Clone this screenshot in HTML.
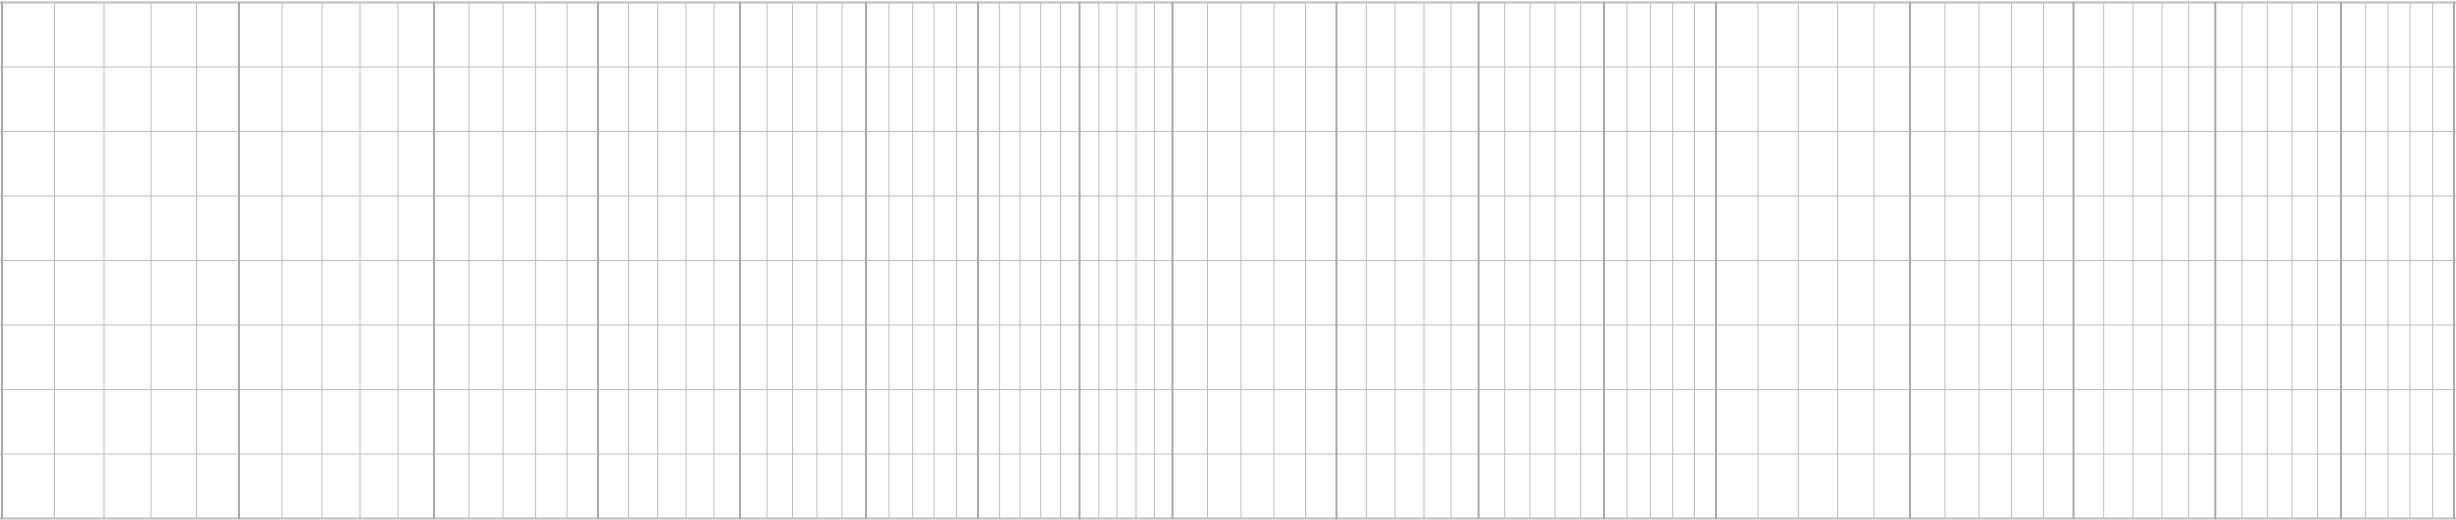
<!DOCTYPE html>
<html>
<head>
<meta charset="utf-8">
<style>
  html,body{margin:0;padding:0;background:#fff;}
  body{width:2456px;height:520px;overflow:hidden;font-family:"Liberation Sans",sans-serif;}
  svg{display:block;}
</style>
</head>
<body>
<svg id="grid" width="2456" height="520" viewBox="0 0 2456 520" xmlns="http://www.w3.org/2000/svg">
  <rect x="0" y="0" width="2456" height="520" fill="#ffffff"/>
  <g id="minor"></g>
  <g id="horiz"></g>
  <g id="major"></g>
</svg>
<script>
const majorX = [2, 239, 434, 598, 740, 866, 978, 1079.5, 1172.5, 1336.5, 1478.6, 1604, 1716, 1910, 2073.5, 2215.3, 2341, 2454];
const minorX = [
  54.5,104,151,196.5,
  282,322,360,398,
  469,503,535.6,567,
  628.5,657.7,686,714,
  767,792.5,817,842,
  889,912.6,934,956.5,
  999.6,1020,1040.7,1060.5,
  1098.8,1117,1136,1154.5,
  1207.5,1241,1274,1305.5,
  1366.4,1395,1424,1451,
  1504.7,1530,1555,1580.6,
  1627,1650.6,1672.7,1694.5,
  1758,1798.4,1837.6,1874,
  1945,1979,2011.5,2043.5,
  2103.7,2133,2162,2188.6,
  2242,2267.4,2292,2317.5,
  2365.7,2388,2410,2432.7
];
const rowCount = 8;
const gridTop = 2.5, gridBottom = 518.5;
const SVGNS = "http://www.w3.org/2000/svg";

function makeLine(parent, x1, y1, x2, y2, stroke, w) {
  const l = document.createElementNS(SVGNS, "line");
  l.setAttribute("x1", x1); l.setAttribute("y1", y1);
  l.setAttribute("x2", x2); l.setAttribute("y2", y2);
  l.setAttribute("stroke", stroke); l.setAttribute("stroke-width", w);
  parent.appendChild(l);
  return l;
}
const gMinor = document.getElementById("minor");
const gMajor = document.getElementById("major");
const gH = document.getElementById("horiz");

minorX.forEach(x => {
  const l = makeLine(gMinor, x, gridTop, x, gridBottom, "#bdbdbd", 1);
  
  
});
for (let i = 0; i <= rowCount; i++) {
  const y = gridTop + (gridBottom - gridTop) * i / rowCount;
  const l = makeLine(gH, 0, y, 2456, y, "#bdbdbd", (i === 0 || i === rowCount) ? 2 : 1);
  
  
}
majorX.forEach(x => {
  const l = makeLine(gMajor, x, gridTop - 1, x, gridBottom + 1, "#a8a8a8", 2);
  
  
});
</script>
</body>
</html>
